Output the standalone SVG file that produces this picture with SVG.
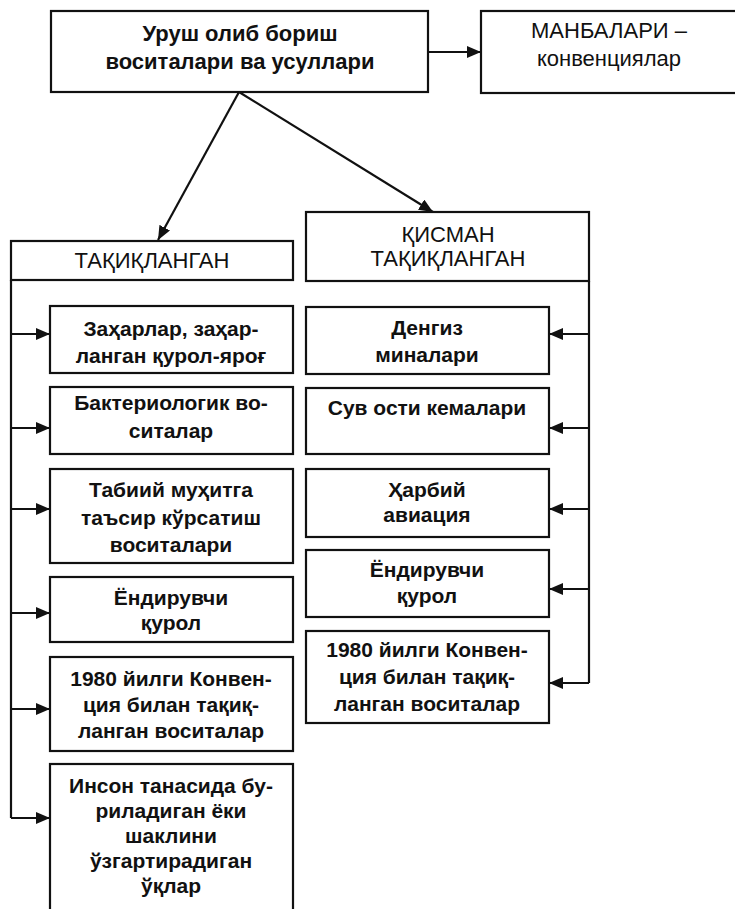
<svg xmlns="http://www.w3.org/2000/svg" width="735" height="909" viewBox="0 0 735 909">
<style>
.box{fill:#fff;stroke:#111;stroke-width:2.2}
.t{font-family:"Liberation Sans",Arial,sans-serif;font-size:21px;fill:#111;text-anchor:middle}
.r{font-size:22px}
.b{font-weight:bold}
.c{fill:none;stroke:#111;stroke-width:2.2}
</style>
<defs>
<marker id="ah" markerUnits="userSpaceOnUse" markerWidth="14" markerHeight="12" refX="14" refY="6" orient="auto">
<path d="M0,0 L14,6 L0,12 z" fill="#111"/>
</marker>
</defs>
<rect width="735" height="909" fill="#fff"/>
<g id="connectors">
<path class="c" d="M428,52 H481" marker-end="url(#ah)"/>
<path class="c" d="M239,92 L158,240" marker-end="url(#ah)"/>
<path class="c" d="M239,92 L433,212" marker-end="url(#ah)"/>
<path class="c" d="M11,280 V818"/>
<path class="c" d="M11,334 H50" marker-end="url(#ah)"/>
<path class="c" d="M11,428 H50" marker-end="url(#ah)"/>
<path class="c" d="M11,509 H50" marker-end="url(#ah)"/>
<path class="c" d="M11,613 H50" marker-end="url(#ah)"/>
<path class="c" d="M11,709 H50" marker-end="url(#ah)"/>
<path class="c" d="M11,818 H50" marker-end="url(#ah)"/>
<path class="c" d="M589,281 V683"/>
<path class="c" d="M589,334 H549" marker-end="url(#ah)"/>
<path class="c" d="M589,428 H549" marker-end="url(#ah)"/>
<path class="c" d="M589,509 H549" marker-end="url(#ah)"/>
<path class="c" d="M589,589 H549" marker-end="url(#ah)"/>
<path class="c" d="M589,683 H549" marker-end="url(#ah)"/>
</g>
<g id="main">
<rect class="box" x="51" y="11" width="377" height="81"/>
<text class="t b" style="font-size:22px" x="240" y="41">Уруш олиб бориш</text>
<text class="t b" style="font-size:22px" x="240" y="69">воситалари ва усуллари</text>
</g>
<g id="sources">
<rect class="box" x="481" y="11" width="260" height="82"/>
<text class="t r" x="609" y="38">МАНБАЛАРИ –</text>
<text class="t r" x="609" y="66">конвенциялар</text>
</g>
<g id="prohibited">
<rect class="box" x="11" y="241" width="282" height="39"/>
<text class="t r" x="152" y="268">ТАҚИҚЛАНГАН</text>
</g>
<g id="partial">
<rect class="box" x="306" y="212" width="283" height="69"/>
<text class="t r" x="448" y="242">ҚИСМАН</text>
<text class="t r" x="448" y="266">ТАҚИҚЛАНГАН</text>
</g>
<g id="l1">
<rect class="box" x="50" y="306" width="243" height="67"/>
<text class="t b" x="171" y="336">Заҳарлар, заҳар-</text>
<text class="t b" x="171" y="363">ланган қурол-яроғ</text>
</g>
<g id="l2">
<rect class="box" x="50" y="387" width="243" height="67"/>
<text class="t b" x="171" y="410">Бактериологик во-</text>
<text class="t b" x="171" y="438">ситалар</text>
</g>
<g id="l3">
<rect class="box" x="50" y="469" width="243" height="94"/>
<text class="t b" x="171" y="497">Табиий муҳитга</text>
<text class="t b" x="171" y="525">таъсир кўрсатиш</text>
<text class="t b" x="171" y="552">воситалари</text>
</g>
<g id="l4">
<rect class="box" x="50" y="577" width="243" height="65"/>
<text class="t b" x="171" y="605">Ёндирувчи</text>
<text class="t b" x="171" y="630">қурол</text>
</g>
<g id="l5">
<rect class="box" x="50" y="657" width="243" height="94"/>
<text class="t b" x="171" y="686">1980 йилги Конвен-</text>
<text class="t b" x="171" y="712">ция билан тақиқ-</text>
<text class="t b" x="171" y="738">ланган воситалар</text>
</g>
<g id="l6">
<rect class="box" x="50" y="764" width="243" height="160"/>
<text class="t b" x="171" y="793">Инсон танасида бу-</text>
<text class="t b" x="171" y="818">риладиган ёки</text>
<text class="t b" x="171" y="843">шаклини</text>
<text class="t b" x="171" y="868">ўзгартирадиган</text>
<text class="t b" x="171" y="893">ўқлар</text>
</g>
<g id="r1">
<rect class="box" x="306" y="307" width="243" height="67"/>
<text class="t b" x="427" y="335">Денгиз</text>
<text class="t b" x="427" y="362">миналари</text>
</g>
<g id="r2">
<rect class="box" x="306" y="388" width="243" height="66"/>
<text class="t b" x="427" y="415">Сув ости кемалари</text>
</g>
<g id="r3">
<rect class="box" x="306" y="469" width="243" height="68"/>
<text class="t b" x="427" y="497">Ҳарбий</text>
<text class="t b" x="427" y="522">авиация</text>
</g>
<g id="r4">
<rect class="box" x="306" y="550" width="243" height="67"/>
<text class="t b" x="427" y="577">Ёндирувчи</text>
<text class="t b" x="427" y="603">қурол</text>
</g>
<g id="r5">
<rect class="box" x="306" y="631" width="243" height="92"/>
<text class="t b" x="427" y="657">1980 йилги Конвен-</text>
<text class="t b" x="427" y="684">ция билан тақиқ-</text>
<text class="t b" x="427" y="711">ланган воситалар</text>
</g>
</svg>
